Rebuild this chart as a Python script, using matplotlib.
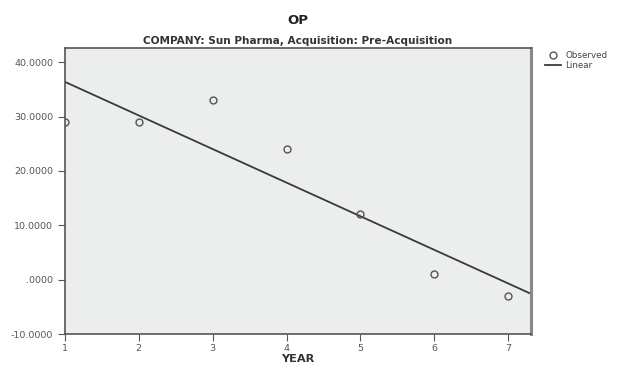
import numpy as np
import matplotlib.pyplot as plt

plt.rcParams['font.family'] = ['DejaVu Sans']

# OP by year, Sun Pharma pre-acquisition
years = [1, 2, 3, 4, 5, 6, 7]
op_values = [29.0, 29.0, 33.0, 24.0, 12.0, 1.0, -3.0]
y_ticks = [-10, 0, 10, 20, 30, 40]
y_labels = ['-10.0000', '.0000', '10.0000', '20.0000', '30.0000', '40.0000']

fig = plt.figure(figsize=(6.24, 3.70), dpi=100)
ax = fig.add_axes([0.104, 0.097, 0.747, 0.773])
ax.set_facecolor('#eceded')

# least-squares line over the observed points
slope, intercept = np.polyfit(years, op_values, 1)
x_max = 7.31
xs = np.array([1, x_max])
ax.plot(xs, intercept + slope * xs, color='#3a3a3a', lw=1.3, label='Linear', zorder=2)
ax.plot(years, op_values, 'o', mfc='none', mec='#555555', mew=1.0, ms=5,
        label='Observed', zorder=3)

ax.set_xlim(1, x_max)
ax.set_ylim(-10, 42.6)
ax.set_xticks(years)
ax.set_yticks(y_ticks)
ax.set_yticklabels(y_labels)
ax.tick_params(labelsize=6.8, colors='#555555', length=5, width=0.8)
ax.tick_params(axis='x', pad=2)

for side in ['left', 'bottom', 'top']:
    ax.spines[side].set_color('#555555')
    ax.spines[side].set_linewidth(1.2)
ax.spines['right'].set_color('#888888')
ax.spines['right'].set_linewidth(2.2)

ax.set_xlabel('YEAR', fontsize=8.2, fontweight='bold', color='#333333', labelpad=1)
fig.text(0.477, 0.945, 'OP', ha='center', va='center', fontsize=9.5,
         fontweight='bold', color='#222222')
fig.text(0.477, 0.89, 'COMPANY: Sun Pharma, Acquisition: Pre-Acquisition',
         ha='center', va='center', fontsize=7.6, fontweight='bold', color='#333333')

handles, labels = ax.get_legend_handles_labels()
fig.legend(handles[::-1], labels[::-1], loc='upper left', bbox_to_anchor=(0.865, 0.875),
           frameon=False, fontsize=6.3, handlelength=1.8, handletextpad=0.5,
           labelspacing=0.1, borderpad=0.1, labelcolor='#444444')

fig.savefig('out.png', dpi=100)
